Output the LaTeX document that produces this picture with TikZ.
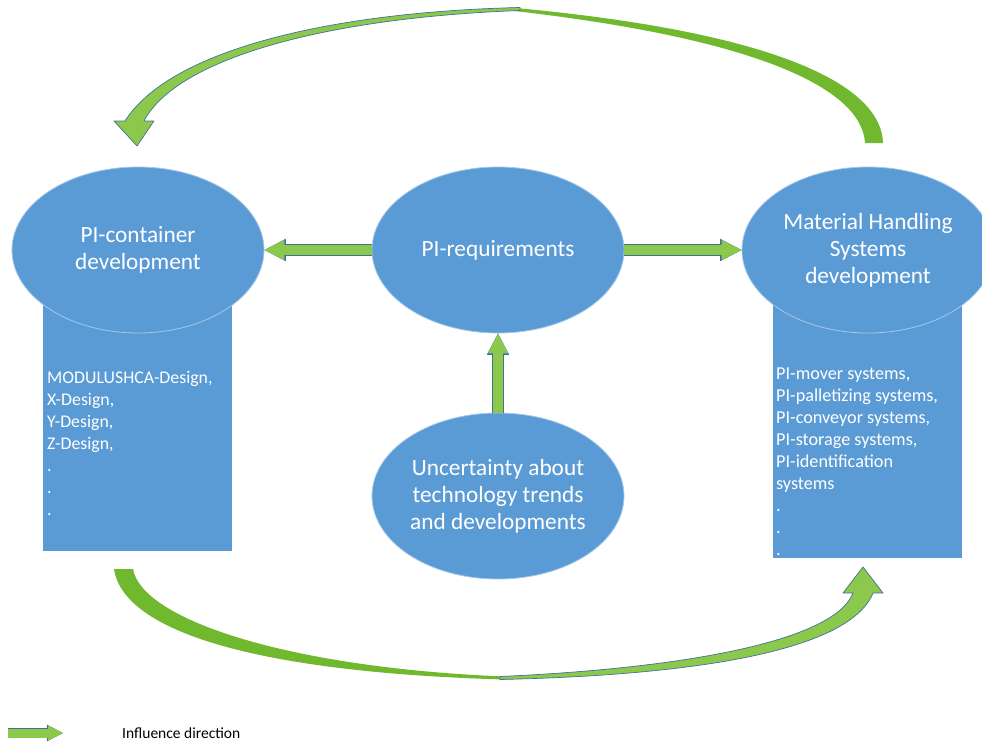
\documentclass[tikz,border=0pt]{standalone}
\usepackage{fontspec}
\setmainfont{Carlito}
\usepackage{tikz}
\usetikzlibrary{shapes, arrows.meta}
\definecolor{blob}{RGB}{91, 155, 213}
\definecolor{rim}{RGB}{165, 199, 234}
\definecolor{leaf}{RGB}{140, 200, 75}
\definecolor{moss}{RGB}{112, 184, 46}
\definecolor{edge}{RGB}{65, 113, 156}
\newcommand*{\w}{252}
\newcommand*{\hh}{166}

\begin{document}
\begin{tikzpicture}[
   x=1pt, y=-1pt,
   topic/.style={ellipse, draw=rim, fill=blob, line width=0.8, text=white,
                 inner sep=0, minimum width=\w, minimum height=\hh, align=center,
                 font=\fontsize{23.3}{27}\selectfont},
   column/.style={rectangle, fill=blob, inner sep=0, minimum width=189},
   listing/.style={text=white, inner sep=0, align=left, anchor=north west},
   flow/.style={draw=leaf, line width=10,
                -{Triangle[length=20pt, width=20pt, line width=0pt]},
                preaction={draw=edge, line width=11.4,
                -{Triangle[length=21.5pt, width=22.5pt, line width=0pt]}}},
   legflow/.style={draw=leaf, line width=9,
                -{Triangle[length=15pt, width=15pt, line width=0pt]},
                preaction={draw=edge, line width=10.2,
                -{Triangle[length=16.2pt, width=16.8pt, line width=0pt]}}},
   backband/.style={fill=moss},
   frontband/.style={fill=leaf, draw=edge, line width=0.7, line join=round}
  ]

  \useasboundingbox (0, 0) rectangle (982, 744);

  % Columns behind the ellipses
  \node (E) at (137.5, 420.5) [column, minimum height=261] {};
  \node (F) at (867.5, 424) [column, minimum height=268] {};

  \node (A) at (138, 250) [topic] {PI-container\\development};
  \node (B) at (498, 250) [topic] {PI-requirements};
  \node (C) at (868, 250) [topic] {Material Handling\\Systems\\development};
  \node (D) at (498, 496) [topic] {Uncertainty about\\technology trends\\and developments};

  \node (G) at (47, 371) [listing, font=\fontsize{17.8}{22}\selectfont]
    {MODULUSHCA-Design,\\X-Design,\\Y-Design,\\Z-Design,\\.\\.\\.};
  \node (H) at (776, 368) [listing, font=\fontsize{18.2}{22}\selectfont]
    {PI-mover systems,\\PI-palletizing systems,\\PI-conveyor systems,\\PI-storage systems,\\PI-identification\\systems\\.\\.\\.};

  \foreach \B/\E in {B.west/A.east, B.east/C.west,
                     D.north/B.south} {
    \draw[flow] (\B) -- (\E);
  }

  % Top curved arrow: C back to A
  \fill[backband] (865, 143) -- (883, 143)
    .. controls (881, 80) and (760, 30) .. (510, 7.5)
    -- (510, 10.5)
    .. controls (755, 38) and (862, 88) .. (865, 143) -- cycle;
  \draw[frontband] (520, 7.5)
    .. controls (330, 12) and (170, 50) .. (125, 121)
    -- (114, 121) -- (137, 146) -- (154, 121) -- (144, 121)
    .. controls (176, 60) and (320, 18) .. (520, 10.5) -- cycle;

  % Bottom curved arrow: E over to F
  \fill[backband] (114, 569) -- (133, 569)
    .. controls (142, 620) and (290, 668) .. (505, 676.5)
    -- (505, 679.5)
    .. controls (270, 673) and (124, 635) .. (114, 569) -- cycle;
  \draw[frontband] (500, 679.5)
    .. controls (700, 675) and (850, 650) .. (873, 593)
    -- (883, 593) -- (863, 567) -- (843, 593) -- (853, 593)
    .. controls (835, 640) and (690, 668) .. (500, 676.5) -- cycle;

  % Legend
  \coordinate (K) at (8, 733);
  \coordinate (L) at (63, 733);
  \draw[legflow] (K) -- (L);
  \node (M) at (122, 733) [anchor=west, inner sep=0, font=\fontsize{15.5}{18}\selectfont] {Influence direction};

\end{tikzpicture}
\end{document}
